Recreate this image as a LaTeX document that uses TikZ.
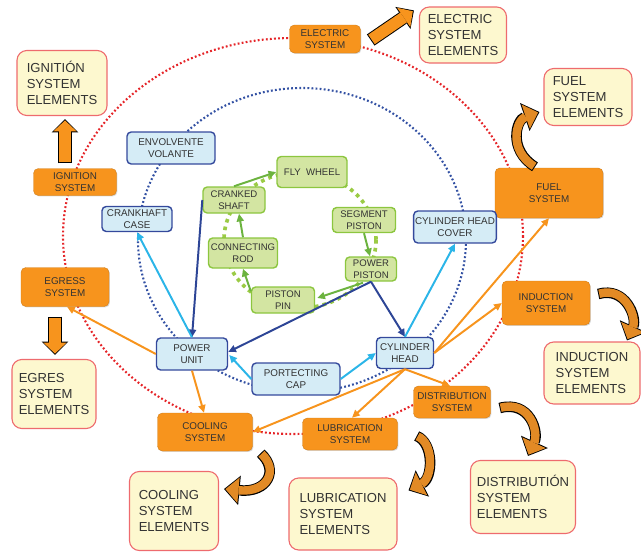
\documentclass[tikz,border=0pt]{standalone}
\usepackage{fontspec}
\setsansfont{Liberation Sans}
\usetikzlibrary{arrows.meta, calc, shadows, backgrounds}
\definecolor{sysOrange}{HTML}{F7941D}
\definecolor{bentOrange}{HTML}{E28A25}
\definecolor{elemFill}{HTML}{FDF8CF}
\definecolor{elemLine}{HTML}{EE6B6E}
\definecolor{partFill}{HTML}{D5ECF6}
\definecolor{partLine}{HTML}{34499C}
\definecolor{cycleFill}{HTML}{D3E5A2}
\definecolor{cycleLine}{HTML}{8CC63F}
\definecolor{arrDark}{HTML}{2D4596}
\definecolor{arrCyan}{HTML}{2BB5E8}
\definecolor{arrGreen}{HTML}{6CB33F}
\definecolor{dotRed}{HTML}{E52428}
\definecolor{dotBlue}{HTML}{3351A3}
\definecolor{dotGreen}{HTML}{9BCB45}
\definecolor{inkGray}{HTML}{333333}

\begin{document}
\begin{tikzpicture}[
  x=0.025cm, y=-0.025cm,
  dims/.style 2 args={minimum width=#1*0.025cm, minimum height=#2*0.025cm},
  sysbox/.style={
    fill=sysOrange, draw=sysOrange!85!black, line width=0.3pt,
    font=\sffamily\fontsize{7}{8.3}\selectfont, text=inkGray,
    align=center, rounded corners=3.5pt, inner sep=1pt,
    drop shadow={shadow xshift=0.7pt, shadow yshift=-0.7pt, opacity=0.3}
  },
  elembox/.style={
    fill=elemFill, draw=elemLine, line width=0.8pt,
    font=\sffamily\fontsize{9.3}{11.2}\selectfont, text=inkGray,
    align=left, rounded corners=7pt, inner sep=1pt
  },
  partbox/.style={
    fill=partFill, draw=partLine, line width=1pt,
    font=\sffamily\fontsize{7}{8.3}\selectfont, text=inkGray,
    align=center, rounded corners=3pt, inner sep=1pt
  },
  cyclebox/.style={
    fill=cycleFill, draw=cycleLine, line width=1pt,
    font=\sffamily\fontsize{6.8}{8.3}\selectfont, text=inkGray,
    align=center, rounded corners=3pt, inner sep=1pt
  },
  arr/.style={draw=#1, line width=1.4pt, -{Triangle[length=5.5pt, width=5pt]}},
  blockarr/.style={
    draw=sysOrange, line width=8.2pt, shorten <=0.7pt, shorten >=1pt,
    -{Triangle[length=7.8pt, width=16.6pt, line width=0pt]},
    preaction={draw=black, line width=9.6pt, shorten <=0pt, shorten >=0pt,
      -{Triangle[length=9.5pt, width=19pt, line width=0pt]}}
  },
  bentarr/.style={
    draw=bentOrange, line width=6pt, shorten <=0.7pt, shorten >=1pt,
    -{Triangle[length=9.3pt, width=18.2pt, line width=0pt]},
    preaction={draw=black, line width=7.5pt, shorten <=0pt, shorten >=0pt,
      -{Triangle[length=11pt, width=21pt, line width=0pt]}}
  },
  reddots/.style={draw=dotRed, line width=1.5pt, dash pattern=on 1.3pt off 1.6pt},
  bluedots/.style={draw=dotBlue, line width=1.5pt, dash pattern=on 1.3pt off 1.6pt},
  greendots/.style={draw=dotGreen, line width=2.6pt, dash pattern=on 2.6pt off 3pt}
]
\useasboundingbox (0,0) rectangle (641,552);

%% ═══ SYSTEMS (outer ring) ═══
\node[sysbox, dims={71}{28}]  (elec)   at (325,39)  {ELECTRIC\\SYSTEM};
\node[sysbox, dims={83}{27}]  (ign)    at (75,182)  {IGNITION\\SYSTEM};
\node[sysbox, dims={88}{39}]  (egress) at (65,287)  {EGRESS\\SYSTEM};
\node[sysbox, dims={108}{50}] (fuel)   at (549,193) {FUEL\\SYSTEM};
\node[sysbox, dims={88}{44}]  (induct) at (546,303) {INDUCTION\\SYSTEM};
\node[sysbox, dims={77}{32}]  (distr)  at (452,402) {DISTRIBUTION\\SYSTEM};
\node[sysbox, dims={95}{32}]  (lub)    at (350,434) {LUBRICATION\\SYSTEM};
\node[sysbox, dims={95}{38}]  (cool)   at (205,432) {COOLING\\SYSTEM};

%% ═══ ELEMENTS ═══
\node[elembox, dims={90}{65}]  (ignel)    at (62,83)   {IGNITIÓN\\SYSTEM\\ELEMENTS};
\node[elembox, dims={87}{56}]  (elecel)   at (463,35)  {ELECTRIC\\SYSTEM\\ELEMENTS};
\node[elembox, dims={88}{57}]  (fuelel)   at (588,97)  {FUEL\\SYSTEM\\ELEMENTS};
\node[elembox, dims={96}{62}]  (inductel) at (592,373) {INDUCTION\\SYSTEM\\ELEMENTS};
\node[elembox, dims={105}{73}] (distrel)  at (523,497) {DISTRIBUTIÓN\\SYSTEM\\ELEMENTS};
\node[elembox, dims={108}{72}] (lubel)    at (343,514) {LUBRICATION\\SYSTEM\\ELEMENTS};
\node[elembox, dims={89}{79}]  (coolel)   at (174,511) {COOLING\\SYSTEM\\ELEMENTS};
\node[elembox, dims={84}{69}]  (egel)     at (54,394)  {EGRES\\SYSTEM\\ELEMENTS};

%% ═══ ENGINE PARTS (inner ring) ═══
\node[partbox, dims={88}{32}] (envol)   at (171,148) {ENVOLVENTE\\VOLANTE};
\node[partbox, dims={70}{25}] (ccase)   at (137,219) {CRANKHAFT\\CASE};
\node[partbox, dims={82}{32}] (chcover) at (455,227) {CYLINDER HEAD\\COVER};
\node[partbox, dims={71}{32}] (pu)      at (192,354) {POWER\\UNIT};
\node[partbox, dims={57}{31}] (chead)   at (405,353) {CYLINDER\\HEAD};
\node[partbox, dims={88}{32}] (pcap)    at (296,379) {PORTECTING\\CAP};

%% ═══ MOVING PARTS (cycle) ═══
\node[cyclebox, dims={70}{31}] (fly)     at (312,172) {FLY\ \ WHEEL};
\node[cyclebox, dims={62}{26}] (crank)   at (234,200) {CRANKED\\SHAFT};
\node[cyclebox, dims={69}{30}] (conrod)  at (243,253) {CONNECTING\\ROD};
\node[cyclebox, dims={63}{25}] (segp)    at (364,220) {SEGMENT\\PISTON};
\node[cyclebox, dims={51}{24}] (ppiston) at (371,269) {POWER\\PISTON};
\node[cyclebox, dims={63}{26}] (pin)     at (283,300) {PISTON\\PIN};

%% dotted rings behind everything
\begin{scope}[on background layer]
  \draw[reddots] (293,236) ellipse [x radius=230, y radius=198];
  \draw[bluedots] (302,240) ellipse [x radius=164, y radius=152];
  \draw[greendots] (300,240) ellipse [x radius=76, y radius=68];
\end{scope}

%% cycle
\draw[arr=arrGreen] (crank.north) -- (fly.west);
\draw[arr=arrGreen] (conrod.north) -- ($(crank.south)+(5,0)$);
\draw[arr=arrGreen] ($(pin.north west)+(0,5)$) -- (conrod.south);
\draw[arr=arrGreen] (segp.south) -- ($(ppiston.north)+(-1,0)$);
\draw[arr=arrGreen] ($(ppiston.south)+(-8,1)$) -- ($(pin.east)+(2,-2)$);

%% parts
\draw[arr=arrDark] (crank.west) -- (pu.north);
\draw[arr=arrDark] (ppiston.south) -- ($(pu.east)+(0,-2)$);
\draw[arr=arrDark] (ppiston.south) -- (chead.north);
\draw[arr=arrCyan] (pu.north) -- (ccase.south);
\draw[arr=arrCyan] (pcap.west) -- ($(pu.east)+(1,1)$);
\draw[arr=arrCyan] (pcap.east) -- (chead.west);
\draw[arr=arrCyan] (chead.north) -- (chcover.south);

%% systems
\draw[arr=sysOrange] (pu.west) -- ($(egress.south)+(2,0)$);
\draw[arr=sysOrange] (pu.south) -- ($(cool.north)+(-1,0)$);
\draw[arr=sysOrange] (chead.south) -- (cool.east);
\draw[arr=sysOrange] (chead.south) -- ($(lub.north)+(2,0)$);
\draw[arr=sysOrange] (chead.south) -- ($(distr.north)+(-2,0)$);
\draw[arr=sysOrange] (chead.east) -- (induct.west);
\draw[arr=sysOrange] (chead.east) -- (fuel.south);

%% block arrows to the elements
\draw[blockarr] ($(ign.north)+(-10,-5)$) -- ($(ignel.south)+(3,3)$);
\draw[blockarr] ($(egress.south)+(-10,10)$) -- ($(egel.north)+(1,-4)$);
\draw[blockarr] ($(elec.east)+(10,1)$) -- ($(elecel.north west)+(-5,4)$);
\draw[bentarr] ($(fuel.north)+(-14,-1)$) .. controls (508,150) and (516,120) .. ($(fuelel.west)+(-4,15)$);
\draw[bentarr] ($(induct.east)+(8,-9)$) .. controls (626,286) and (637,318) .. ($(inductel.north)+(35,-1)$);
\draw[bentarr] ($(distr.east)+(9,6)$) .. controls (530,400) and (539,432) .. ($(distrel.north)+(5,-4)$);
\draw[bentarr] ($(lub.east)+(19,2)$) .. controls (434,443) and (433,478) .. ($(lubel.north east)+(11,13)$);
\draw[bentarr] ($(cool.south east)+(8,2)$) .. controls (279,470) and (268,493) .. ($(coolel.east)+(5,-22)$);

\end{tikzpicture}
\end{document}
